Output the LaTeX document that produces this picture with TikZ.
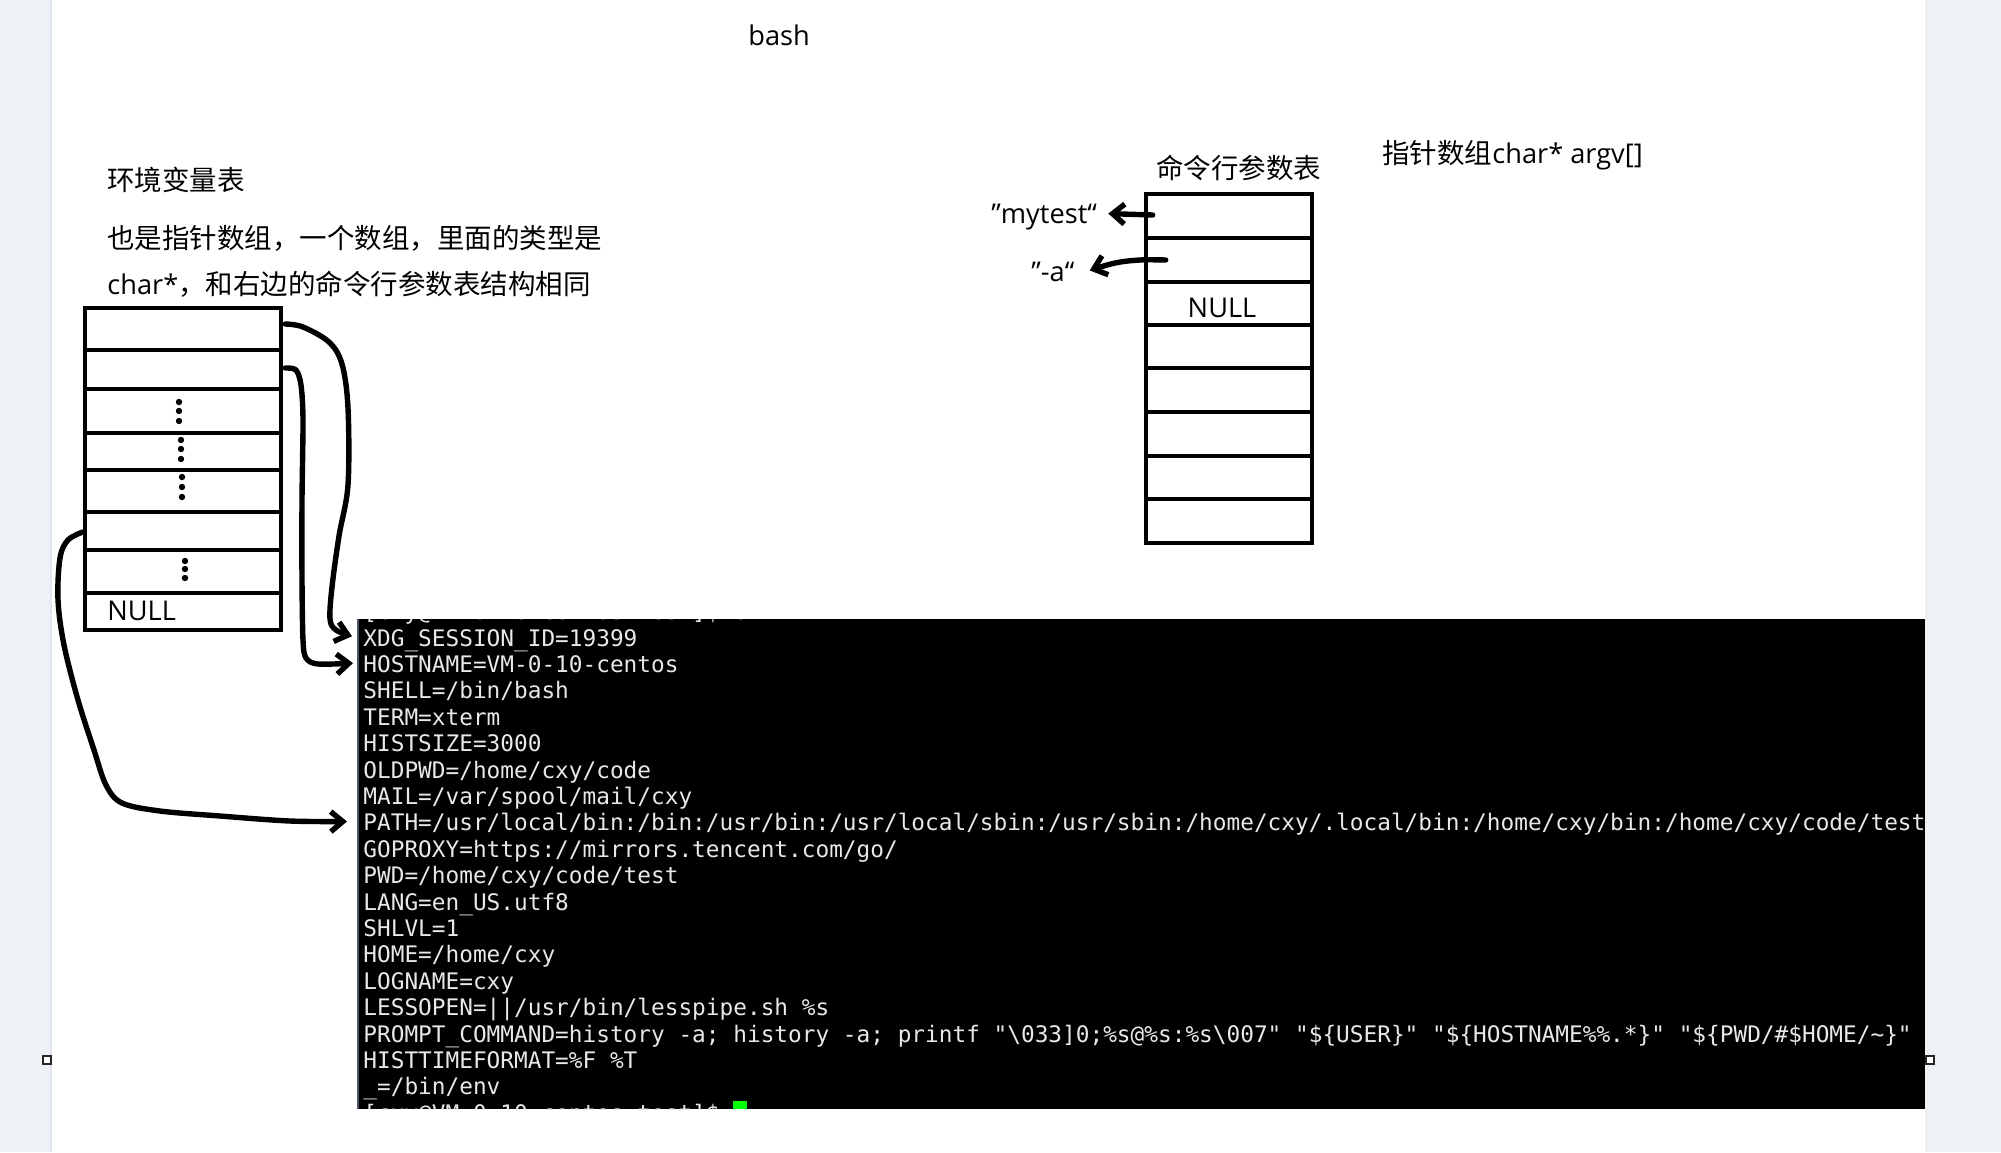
\documentclass[tikz,border=0pt]{standalone}
\usepackage{fontspec}
\setmainfont{Open Sans}
\setmonofont{DejaVu Sans Mono}
\newfontfamily\cjk{Noto Sans CJK SC}
\usetikzlibrary{arrows.meta,calc}
\definecolor{strip}{HTML}{EEF2F7}
\definecolor{stripedge}{HTML}{E1E6ED}
\definecolor{termfg}{HTML}{E8E8E8}
\definecolor{cursorgreen}{HTML}{00FF00}
\definecolor{termedge}{HTML}{4A5563}
\newcommand{\zhtext}[1]{{\cjk\fontsize{13.75pt}{16pt}\selectfont #1}}
\begin{document}
\begin{tikzpicture}[x=0.5pt,y=-0.5pt,
  cellL/.style={draw, line width=2.3pt, minimum width=98pt, inner sep=0pt},
  cellR/.style={draw, line width=2.3pt, minimum width=83pt, inner sep=0pt},
  lat/.style={font=\fontsize{13.6pt}{16pt}\selectfont, inner sep=0pt, anchor=base west},
  zh/.style={font=\cjk\fontsize{13.75pt}{16pt}\selectfont, inner sep=0pt, anchor=base west},
  term/.style={font=\ttfamily\fontsize{11.38pt}{13pt}\selectfont, text=termfg, inner sep=0pt, anchor=base west},
  conn/.style={line width=2.7pt, line cap=round, line join=round, -{Straight Barb[length=6pt,width=10pt]}},
  handle/.style={fill=white, draw=black!85, line width=0.8pt},
]
\useasboundingbox (0,0) rectangle (2001,1152);
% page background
\fill[white] (0,0) rectangle (2001,1152);
\fill[strip] (0,0) rectangle (51,1152);
\fill[strip] (1925,0) rectangle (2001,1152);
\draw[stripedge, line width=0.6pt] (51,0) -- (51,1152);

% title
\node[lat] (bash) at (748,45) {bash};

% left texts
\node[zh] (envtitle) at (107,190) {环境变量表};
\node[zh] (envdesc1) at (107,248) {也是指针数组，一个数组，里面的类型是};
\node[lat] (envdesc2) at (107,294) {char*\zhtext{，和右边的命令行参数表结构相同}};

% left table
\node[cellL, minimum height=21pt]   (L1) at (183,329) {};
\node[cellL, minimum height=19.5pt] (L2) at (183,369.5) {};
\node[cellL, minimum height=22pt]   (L3) at (183,411) {};
\node[cellL, minimum height=18.5pt] (L4) at (183,451.5) {};
\node[cellL, minimum height=21pt]   (L5) at (183,491) {};
\node[cellL, minimum height=19pt]   (L6) at (183,531) {};
\node[cellL, minimum height=21.5pt] (L7) at (183,571.5) {};
\node[cellL, minimum height=18.5pt] (L8) at (183,611.5) {};
\node[lat] (nullL) at (107,620) {NULL};
% vertical dots
\foreach \x/\y in {179/402,179/411,179/421, 181/440,181/449,181/459, 182/477,182/487,182/497, 185/561,185/569,185/578}
  \fill (\x,\y) circle[radius=1.6pt];

% right texts
\node[zh] (argvtitle) at (1156,178) {命令行参数表};
\node[lat] (argvnote) at (1382,163) {\zhtext{指针数组}char* argv[]};
\node[lat] (mytest) at (991,223) {”mytest“};
\node[lat] (dasha) at (1031,281) {”-a“};

% right table
\node[cellR, minimum height=22pt]   (R1) at (1229,216) {};
\node[cellR, minimum height=22pt]   (R2) at (1229,260) {};
\node[cellR, minimum height=21.5pt] (R3) at (1229,303.5) {};
\node[cellR, minimum height=21.5pt] (R4) at (1229,346.5) {};
\node[cellR, minimum height=22pt]   (R5) at (1229,390) {};
\node[cellR, minimum height=22pt]   (R6) at (1229,434) {};
\node[cellR, minimum height=21.5pt] (R7) at (1229,477.5) {};
\node[cellR, minimum height=22pt]   (R8) at (1229,521) {};
\node[lat, anchor=base] (nullR) at (1222,317) {NULL};

% terminal
\fill[black] (357,619) rectangle (1925,1109);
\draw[termedge, line width=1pt] (357.5,619) -- (357.5,1109);
\begin{scope}
\clip (358,619) rectangle (1925,1109);
\node[term] (tprev) at (363,619.6) {[cxy@VM-0-10-centos test]\$ env};
\node[term] (t0) at (363,646) {XDG\_SESSION\_ID=19399};
\node[term] (t1) at (363,672.4) {HOSTNAME=VM-0-10-centos};
\node[term] (t2) at (363,698.8) {SHELL=/bin/bash};
\node[term] (t3) at (363,725.2) {TERM=xterm};
\node[term] (t4) at (363,751.6) {HISTSIZE=3000};
\node[term] (t5) at (363,778) {OLDPWD=/home/cxy/code};
\node[term] (t6) at (363,804.4) {MAIL=/var/spool/mail/cxy};
\node[term] (t7) at (363,830.8) {PATH=/usr/local/bin:/bin:/usr/bin:/usr/local/sbin:/usr/sbin:/home/cxy/.local/bin:/home/cxy/bin:/home/cxy/code/test};
\node[term] (t8) at (363,857.2) {GOPROXY=https://mirrors.tencent.com/go/};
\node[term] (t9) at (363,883.6) {PWD=/home/cxy/code/test};
\node[term] (t10) at (363,910) {LANG=en\_US.utf8};
\node[term] (t11) at (363,936.4) {SHLVL=1};
\node[term] (t12) at (363,962.8) {HOME=/home/cxy};
\node[term] (t13) at (363,989.2) {LOGNAME=cxy};
\node[term] (t14) at (363,1015.6) {LESSOPEN=||/usr/bin/lesspipe.sh \%s};
\node[term] (t15) at (363,1042) {PROMPT\_COMMAND=history -a; history -a; printf "\textbackslash 033]0;\%s@\%s:\%s\textbackslash 007" "\$\{USER\}" "\$\{HOSTNAME\%\%.*\}" "\$\{PWD/\#\$HOME/\textasciitilde\}"};
\node[term] (t16) at (363,1068.4) {HISTTIMEFORMAT=\%F \%T};
\node[term] (t17) at (363,1094.8) {\_=/bin/env};
\node[term] (tnext) at (363,1121.2) {[cxy@VM-0-10-centos test]\$ };
\fill[cursorgreen] (733,1101) rectangle (747,1109);
\end{scope}

% selection handles
\draw[handle] (43,1056) rectangle (51,1064);
\draw[handle] (1926,1056) rectangle (1934,1064);

% connector end points
\coordinate (aS) at ($(L1.east)+(2,-5)$);
\coordinate (aE) at ($(t0.west)+(-11,-4)$);
\coordinate (bS) at ($(L2.east)+(2,-1.5)$);
\coordinate (bE) at ($(t1.west)+(-10,-1)$);
\coordinate (cS) at ($(L6.west)+(0,1)$);
\coordinate (cE) at ($(t7.west)+(-16,-3)$);
\coordinate (mS) at ($(R1.west)+(9,-1)$);
\coordinate (mE) at ($(mytest.east)+(11,-3)$);
\coordinate (dS) at ($(R2.west)+(22,0)$);
\coordinate (dE) at ($(dasha.east)+(15,-1)$);

% connectors
\draw[conn] plot[smooth, tension=0.55] coordinates {(aS) (303,327) (329,342) (342,364) (348,408) (348,485) (339,536) (332,587) (330,619) (336,630) (aE)};
\draw[conn] plot[smooth, tension=0.5] coordinates {(bS) (296,370) (301,385) (303,420) (302,500) (302,580) (303,640) (306,658) (318,664) (bE)};
\draw[conn] plot[smooth, tension=0.55] coordinates {(cS) (68,540) (60,558) (58,600) (64,645) (78,700) (94,750) (106,785) (122,803) (160,811) (220,816) (290,821) (cE)};
\draw[conn] (mS) -- (mE);
\draw[conn] plot[smooth, tension=0.6] coordinates {(dS) (1140,260) (1115,263) (dE)};
\end{tikzpicture}
\end{document}
